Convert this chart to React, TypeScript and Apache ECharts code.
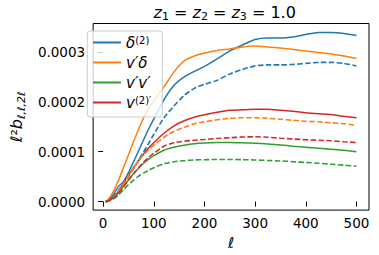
import React, { useEffect, useRef } from 'react';
import * as echarts from 'echarts';

const SCALE = 1e-4;
const ells = [5, 10, 20, 30, 40, 50, 60, 70, 80, 90, 100, 120, 140, 160, 180, 200, 225, 250, 275, 300, 325, 350, 375, 400, 425, 450, 475, 500];

// values in units of 1e-4
const delta2Solid = [0, 0.03, 0.14, 0.3, 0.4, 0.58, 0.8, 1.02, 1.24, 1.46, 1.66, 2.04, 2.33, 2.5, 2.61, 2.71, 2.86, 3.02, 3.14, 3.25, 3.28, 3.28, 3.3, 3.35, 3.39, 3.39, 3.37, 3.33];
const delta2Dashed = [0, 0.02, 0.1, 0.22, 0.36, 0.5, 0.66, 0.83, 1.0, 1.17, 1.35, 1.68, 1.92, 2.13, 2.27, 2.35, 2.43, 2.56, 2.65, 2.72, 2.74, 2.74, 2.75, 2.77, 2.79, 2.79, 2.77, 2.72];
const vdSolid = [0, 0.04, 0.2, 0.42, 0.68, 0.94, 1.2, 1.45, 1.68, 1.87, 2.02, 2.3, 2.6, 2.82, 2.92, 2.98, 3.03, 3.06, 3.1, 3.12, 3.1, 3.08, 3.05, 3.02, 2.99, 2.96, 2.92, 2.87];
const vdDashed = [0, 0.015, 0.08, 0.2, 0.36, 0.52, 0.68, 0.82, 0.94, 1.04, 1.13, 1.29, 1.41, 1.49, 1.56, 1.6, 1.64, 1.67, 1.68, 1.68, 1.67, 1.65, 1.63, 1.61, 1.6, 1.58, 1.56, 1.53];
const vvSolid = [0, 0.01, 0.07, 0.17, 0.31, 0.44, 0.56, 0.67, 0.77, 0.85, 0.92, 1.03, 1.09, 1.13, 1.16, 1.175, 1.185, 1.187, 1.18, 1.17, 1.155, 1.135, 1.11, 1.09, 1.07, 1.05, 1.03, 1.0];
const vvDashed = [0, 0.01, 0.05, 0.13, 0.24, 0.34, 0.43, 0.51, 0.57, 0.63, 0.68, 0.76, 0.8, 0.82, 0.835, 0.84, 0.845, 0.845, 0.84, 0.835, 0.825, 0.815, 0.8, 0.785, 0.77, 0.75, 0.73, 0.71];
const v2Solid = [0, 0.02, 0.09, 0.2, 0.37, 0.53, 0.68, 0.82, 0.96, 1.08, 1.18, 1.37, 1.52, 1.62, 1.69, 1.74, 1.79, 1.83, 1.84, 1.85, 1.85, 1.83, 1.81, 1.78, 1.76, 1.745, 1.71, 1.68];
const v2Dashed = [0, 0.01, 0.07, 0.17, 0.3, 0.43, 0.56, 0.68, 0.79, 0.89, 0.97, 1.11, 1.18, 1.21, 1.23, 1.245, 1.265, 1.28, 1.295, 1.3, 1.29, 1.27, 1.255, 1.24, 1.23, 1.22, 1.2, 1.185];

const xTicks = [0, 100, 200, 300, 400, 500];
const yTicks = [0, 0.0001, 0.0002, 0.0003];

const names = ['δ(2)', "v'δ", "v'v'", "v(2)'"];
const legendRich: Record<string, string> = {
  'δ(2)': '{i|δ}{sup|(2)}',
  "v'δ": '{i|v′δ}',
  "v'v'": '{i|v′v′}',
  "v(2)'": '{i|v}{sup|(2)′}',
};
const colors = ['#1f77b4', '#ff7f0e', '#2ca02c', '#d62728'];
const solids = [delta2Solid, vdSolid, vvSolid, v2Solid];
const dashes = [delta2Dashed, vdDashed, vvDashed, v2Dashed];

const FONT = 'DejaVu Sans';

export default function App() {
  const ref = useRef<HTMLDivElement>(null);
  useEffect(() => {
    const chart = echarts.init(ref.current!, undefined, { renderer: 'svg' });
    const series: any[] = [];
    names.forEach((n, k) => {
      series.push({
        name: n,
        type: 'line',
        symbol: 'none',
        smooth: 0.2,
        data: ells.map((l, i) => [l, solids[k][i] * SCALE]),
        lineStyle: { color: colors[k], width: 1.5 },
        itemStyle: { color: colors[k] },
        z: 2,
      });
    });
    names.forEach((n, k) => {
      series.push({
        name: n + ' dashed',
        type: 'line',
        symbol: 'none',
        smooth: 0.2,
        data: ells.map((l, i) => [l, dashes[k][i] * SCALE]),
        lineStyle: { color: colors[k], width: 1.6, type: [5.5, 2.4] },
        itemStyle: { color: colors[k] },
        z: 2,
      });
    });
    chart.setOption({
      animation: false,
      title: {
        text: '{i|z}{s|1}{n| = }{i|z}{s|2}{n| = }{i|z}{s|3}{n| = 1.0}',
        left: 224.7,
        textAlign: 'center',
        top: 2,
        padding: 0,
        textStyle: {
          fontWeight: 'normal',
          rich: {
            i: { fontFamily: FONT, fontStyle: 'italic', fontWeight: 'normal', fontSize: 16, color: '#000', lineHeight: 20 },
            n: { fontFamily: FONT, fontWeight: 'normal', fontSize: 16, color: '#000', lineHeight: 20 },
            s: { fontFamily: FONT, fontWeight: 'normal', fontSize: 11, color: '#000', verticalAlign: 'bottom', lineHeight: 15 },
          },
        },
      },
      graphic: [
        {
          type: 'rect',
          z: 3,
          silent: true,
          shape: { x: 87.3, y: 31, width: 75, height: 86, r: 3 },
          style: { fill: 'rgba(255,255,255,0.8)', stroke: '#cccccc', lineWidth: 1 },
        },
      ],
      legend: {
        data: names,
        orient: 'vertical',
        left: 92,
        top: 35,
        z: 4,
        itemWidth: 28,
        itemHeight: 12,
        itemGap: 5,
        padding: 0,
        itemStyle: { opacity: 0 },
        formatter: (n: string) => legendRich[n],
        textStyle: {
          rich: {
            i: { fontFamily: FONT, fontStyle: 'italic', fontSize: 15, color: '#000', lineHeight: 15 },
            sup: { fontFamily: FONT, fontSize: 10, color: '#000', verticalAlign: 'top', lineHeight: 10 },
          },
        },
      },
      grid: {
        left: 80.3,
        right: 10,
        top: 23.5,
        bottom: 42.7,
        show: true,
        borderColor: '#000',
        borderWidth: 1,
      },
      xAxis: {
        type: 'value',
        min: -19.75,
        max: 524.75,
        name: 'ℓ',
        nameLocation: 'middle',
        nameGap: 22,
        nameTextStyle: { fontFamily: FONT, fontStyle: 'italic', fontSize: 15, color: '#000' },
        axisLine: { show: false },
        splitLine: { show: false },
        axisTick: { show: true, customValues: xTicks, length: 5, lineStyle: { color: '#000' } },
        axisLabel: { customValues: xTicks, margin: 6, fontFamily: FONT, fontSize: 13.5, color: '#000' },
      },
      yAxis: {
        type: 'value',
        min: -0.000017,
        max: 0.000357,
        name: '{a|ℓ}{p|²}{a|b}{s|ℓ,ℓ,2ℓ}',
        nameLocation: 'middle',
        nameRotate: 90,
        nameGap: 58,
        nameTextStyle: {
          rich: {
            a: { fontFamily: FONT, fontStyle: 'italic', fontSize: 16, color: '#000', lineHeight: 22 },
            p: { fontFamily: FONT, fontSize: 16, color: '#000', lineHeight: 22 },
            s: { fontFamily: FONT, fontStyle: 'italic', fontSize: 11, color: '#000', verticalAlign: 'bottom', lineHeight: 14 },
          },
        },
        axisLine: { show: false },
        splitLine: { show: false },
        axisTick: { show: true, customValues: yTicks, length: 5, lineStyle: { color: '#000' } },
        axisLabel: {
          customValues: yTicks,
          margin: 8,
          fontFamily: FONT,
          fontSize: 13.5,
          color: '#000',
          formatter: (v: number) => v.toFixed(4),
        },
      },
      series,
    });
    return () => chart.dispose();
  }, []);
  return <div ref={ref} style={{ width: 379, height: 255, position: 'absolute', left: 0, top: 0 }} />;
}
